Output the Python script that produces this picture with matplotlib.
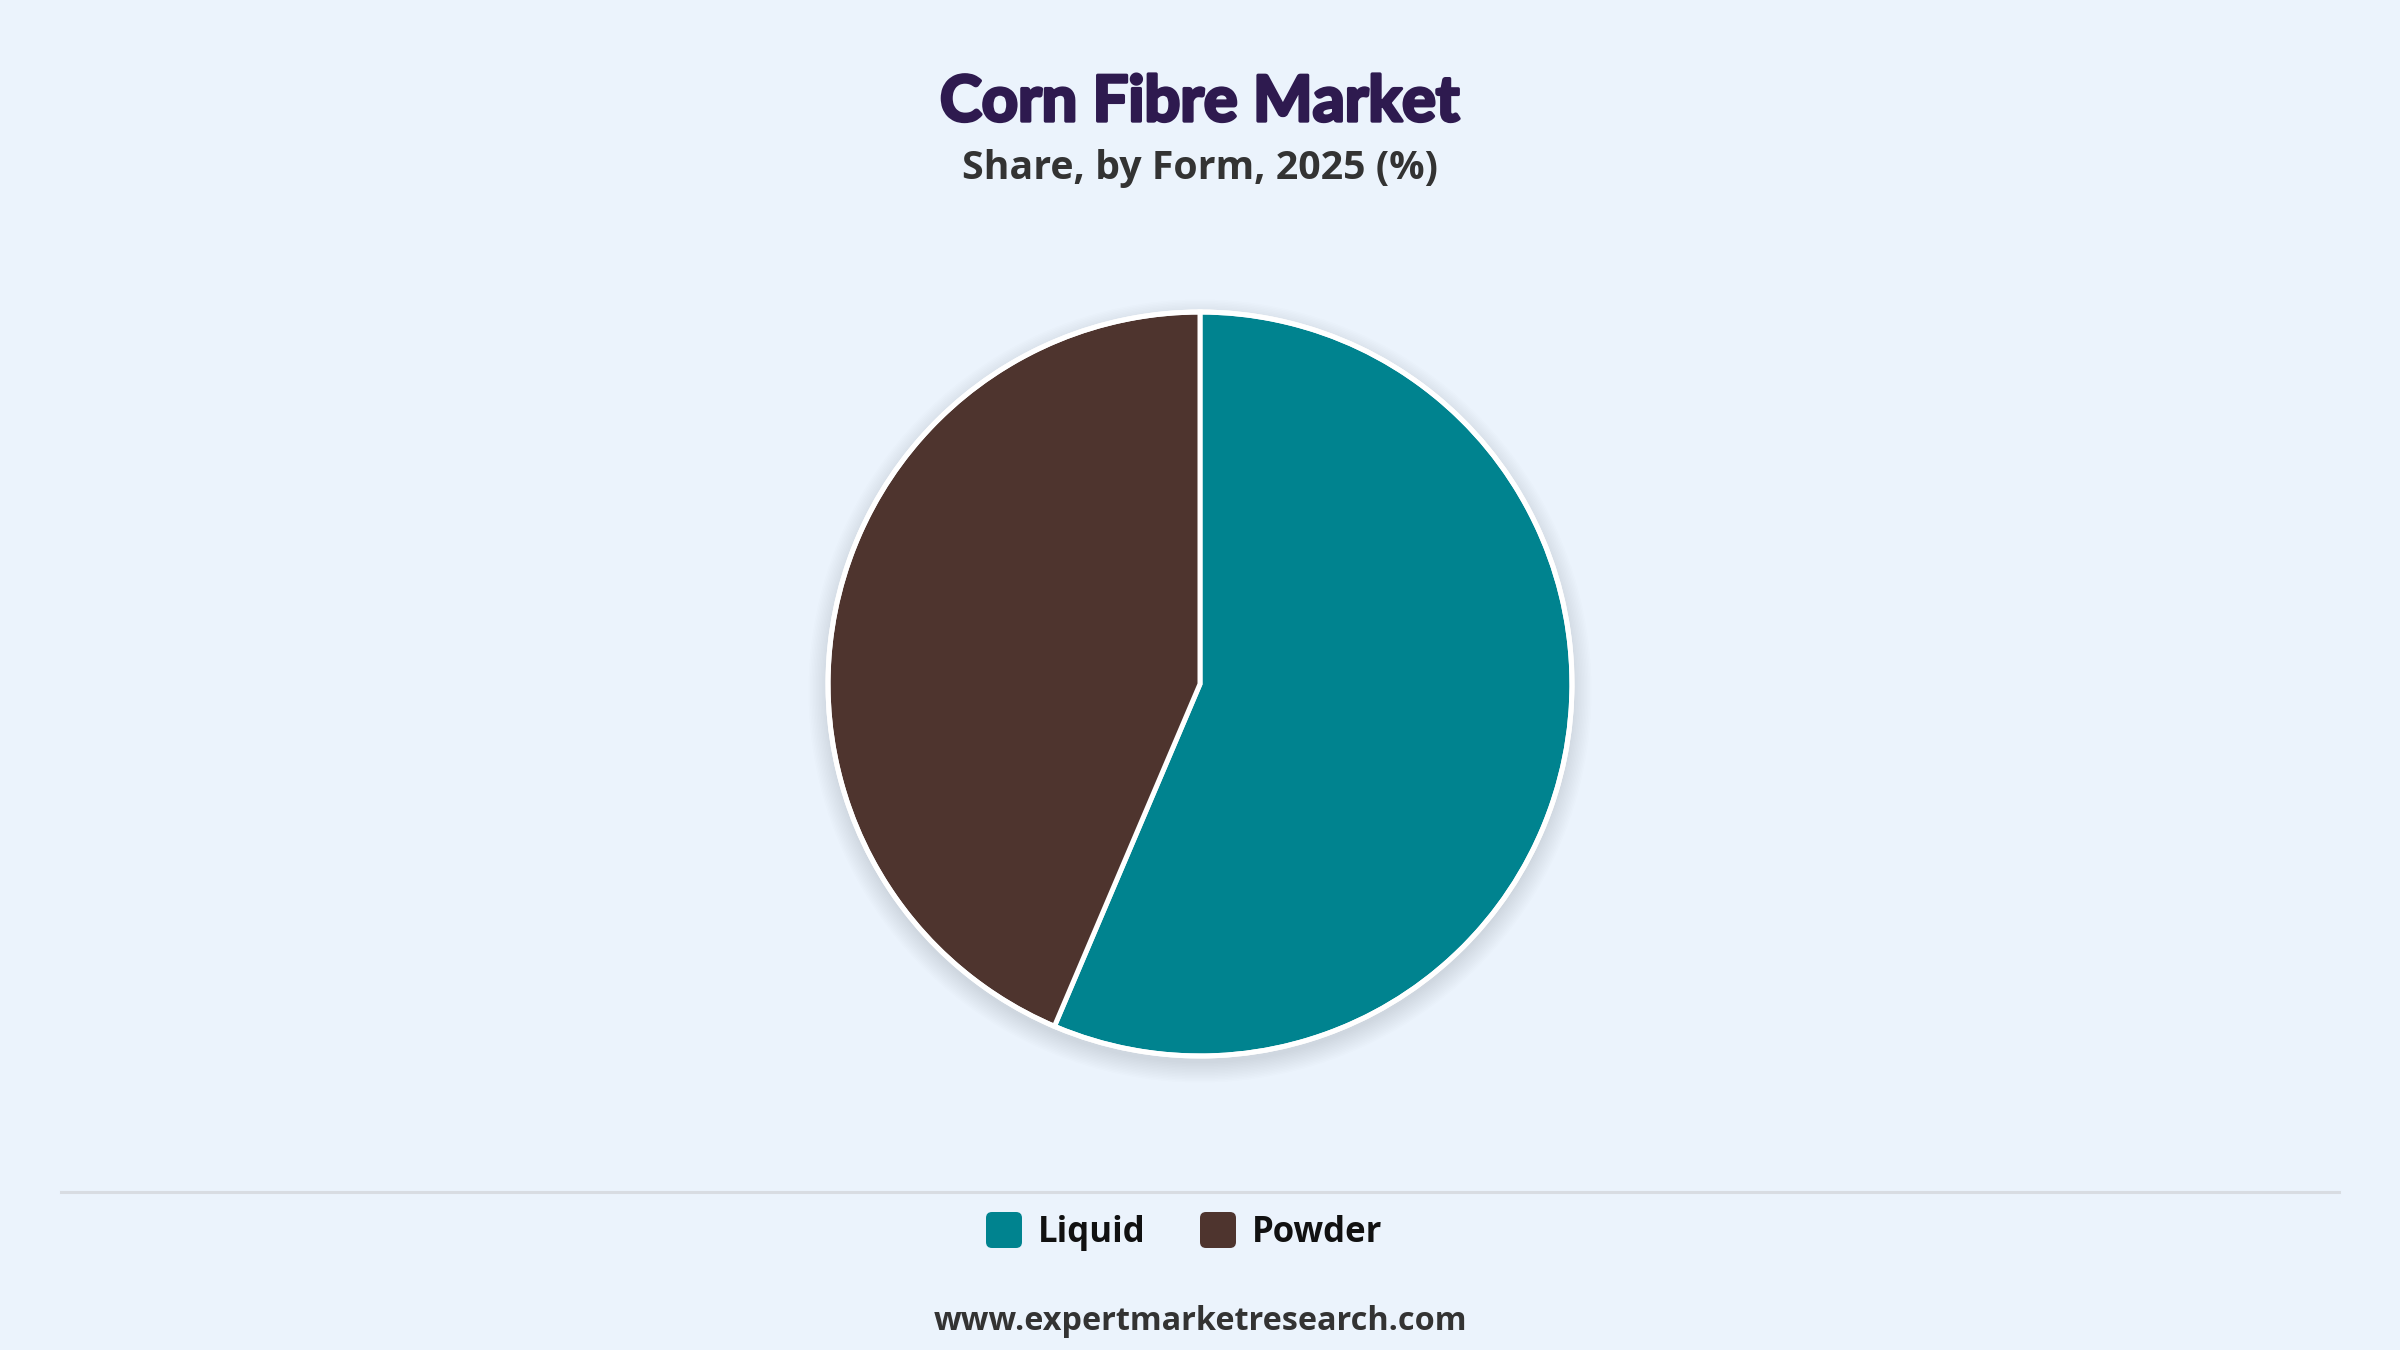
"""Corn Fibre Market - share by form pie chart"""

import matplotlib
matplotlib.use("Agg")
import matplotlib.pyplot as plt
import matplotlib.patheffects as pe
from matplotlib.patches import Circle, FancyBboxPatch

# data
labels = ["Liquid", "Powder"]
shares = [56.4, 43.6]
colors = ["#00838F", "#4E342E"]

title = "Corn Fibre Market"
subtitle = "Share, by Form, 2025 (%)"
source = "www.expertmarketresearch.com"

BG = "#EBF3FC"
W, H = 2400, 1350

fig = plt.figure(figsize=(24, 13.5), dpi=100, facecolor=BG)
ax = fig.add_axes([0, 0, 1, 1])
ax.set_facecolor(BG)

cx, cy, r = 1200, H - 684, 372

# soft shadow under the pie
for i in range(14):
    ax.add_patch(Circle((cx, cy - 7), r + i * 1.5, color="#5a6470",
                        alpha=0.010, lw=0, zorder=1))

ax.pie(shares, colors=colors, startangle=90, counterclock=False,
       center=(cx, cy), radius=r, frame=True,
       wedgeprops=dict(edgecolor="white", linewidth=3.6, zorder=2))
ax.add_patch(Circle((cx, cy), r, fill=False, edgecolor="white", lw=3.6, zorder=3))

ax.set_xlim(0, W)
ax.set_ylim(0, H)
ax.set_aspect("equal")
ax.axis("off")

# titles
ax.text(W / 2, H - 103, title, ha="center", va="center", fontsize=45.5,
        fontweight="bold", family="Lato", color="#2E1A4F",
        path_effects=[pe.withStroke(linewidth=2.4, foreground="#2E1A4F")])
ax.text(W / 2, H - 168, subtitle, ha="center", va="center", fontsize=28.3,
        fontweight="bold", family="Open Sans", color="#333333")

# divider
ax.plot([61, 2339], [H - 1192, H - 1192], color="#D8DCE2", lw=2.2)

# legend
sq = 36
legend_x = [986, 1200]
ly = H - 1230
for x, lab, col in zip(legend_x, labels, colors):
    ax.add_patch(FancyBboxPatch((x, ly - sq / 2), sq, sq,
                                boxstyle="round,pad=0,rounding_size=6",
                                fc=col, ec="none"))
    ax.text(x + sq + 16, ly - 3, lab, ha="left", va="center", fontsize=25,
            fontweight="bold", family="Open Sans", color="#111111")

ax.text(W / 2, H - 1322, source, ha="center", va="center", fontsize=23.3,
        fontweight="bold", family="Open Sans", color="#333333")

fig.savefig("out.png", dpi=100, facecolor=BG)
